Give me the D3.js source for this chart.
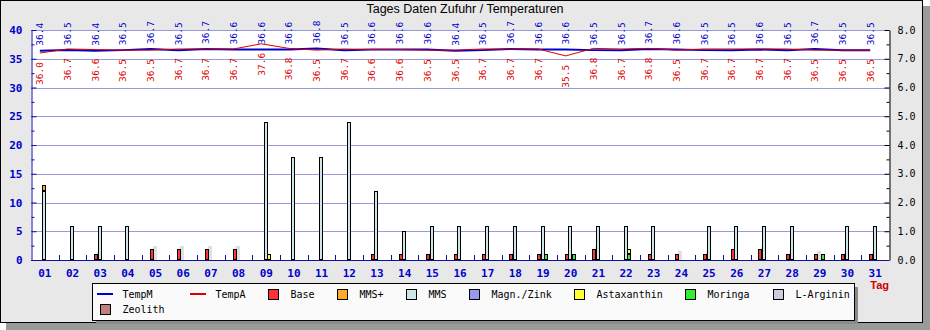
<!DOCTYPE html>
<html>
<head>
<meta charset="utf-8">
<script src="https://cdn.jsdelivr.net/npm/d3@7/dist/d3.min.js"></script>
<style>
  body { margin: 0; background: #ffffff; }
  svg { display: block; }
</style>
</head>
<body>
<svg id="chart" width="930" height="330"></svg>
<script>
// ---- data -------------------------------------------------------------
const days = ["01","02","03","04","05","06","07","08","09","10","11","12","13","14","15","16",
              "17","18","19","20","21","22","23","24","25","26","27","28","29","30","31"];

const tempM = [36.4,36.5,36.4,36.5,36.7,36.5,36.7,36.6,36.6,36.6,36.8,36.5,36.6,36.6,36.6,36.4,
               36.5,36.7,36.6,36.6,36.5,36.5,36.7,36.6,36.5,36.5,36.6,36.5,36.7,36.5,36.5];
const tempA = [36.0,36.7,36.6,36.5,36.5,36.7,36.7,36.7,37.6,36.8,36.5,36.7,36.6,36.6,36.5,36.5,
               36.7,36.7,36.7,35.5,36.8,36.7,36.8,36.5,36.7,36.7,36.7,36.7,36.5,36.5,36.5];

const base        = [0,0,1,0,2,2,2,2,0,0,0,0,1,1,1,1,1,1,1,1,2,0,1,1,1,2,2,1,1,1,1];
const mmsPlus     = [1,0,0,0,0,0,0,0,0,0,0,0,0,0,0,0,0,0,0,0,0,0,0,0,0,0,0,0,0,0,0];
const mms         = [12,6,6,6,0,0,0,0,24,18,18,24,12,5,6,6,6,6,6,6,6,6,6,0,6,6,6,6,0,6,6];
const magnZink    = [0,0,0,0,0,0,0,0,0,0,0,0,0,0,0,0,0,0,0,0,0,0,0,0,0,0,0,0,0,0,0];
const astaxanthin = [0,0,0,0,0,0,0,0,1,0,0,0,0,0,0,0,0,0,0,0,0,1,0,0,0,0,0,0,0,0,0];
const moringa     = [0,0,0,0,0,0,0,0,0,0,0,0,0,0,0,0,0,0,1,1,0,1,0,0,0,0,0,0,1,0,0];
const lArginin    = [0,0,0,0,0,0,0,0,0,0,0,0,0,0,0,0,0,0,0,0,0,0,0,0,0,0,0,0,0,0,0];
const zeolith     = [0,0,0,0,0,0,0,0,0,0,0,0,0,0,0,0,0,0,0,0,0,0,0,0,0,0,0,0,0,0,0];

const leftTicks  = [0,5,10,15,20,25,30,35,40];
const rightTicks = [0,1,2,3,4,5,6,7,8];

const chartTitle = "Tages Daten Zufuhr / Temperaturen";
const xTitle = "Tag";

// ---- series styling ----------------------------------------------------
const colors = {
  TempM: "#0000cc", TempA: "#dd0000",
  Base: "#ff3333", "MMS+": "#ffaa22", MMS: "#cce6ea", "Magn./Zink": "#9999ee",
  Astaxanthin: "#ffff33", Moringa: "#33ee33", "L-Arginin": "#ccccdd", Zeolith: "#c08080"
};

const seriesValues = {
  Base: base, "MMS+": mmsPlus, MMS: mms, "Magn./Zink": magnZink,
  Astaxanthin: astaxanthin, Moringa: moringa, "L-Arginin": lArginin, Zeolith: zeolith
};

// three bar slots per day, each slot stacks its series bottom-up
const slots = [
  { key: "s1", series: ["Base", "Zeolith"] },
  { key: "s2", series: ["MMS", "MMS+", "L-Arginin"] },
  { key: "s3", series: ["Moringa", "Astaxanthin", "Magn./Zink"] }
];

const legendItems = [
  { name: "TempM", type: "line" }, { name: "TempA", type: "line" },
  { name: "Base", type: "box" }, { name: "MMS+", type: "box" }, { name: "MMS", type: "box" },
  { name: "Magn./Zink", type: "box" }, { name: "Astaxanthin", type: "box" },
  { name: "Moringa", type: "box" }, { name: "L-Arginin", type: "box" }, { name: "Zeolith", type: "box" }
];

// ---- layout ------------------------------------------------------------
const W = 930, H = 330;
const P = { l: 31, r: 889, t: 30, b: 260 };
const svg = d3.select("#chart");

const x = d3.scaleBand().domain(days).range([P.l, P.r]).padding(0);
const xs = d3.scaleBand().domain(slots.map(s => s.key)).range([-6, 4.5]);
const y = d3.scaleLinear().domain([0, 40]).range([P.b, P.t]);
const y2 = d3.scaleLinear().domain([0, 8]).range([P.b, P.t]);
const cx = d => x(d) + x.bandwidth() / 2;
const lineX = i => cx(days[i]) - 5;
const barW = 4;

// frame with drop shadow
svg.append("rect").attr("x", 6).attr("y", 6).attr("width", W - 6).attr("height", H - 6).attr("fill", "#9a9a9a");
svg.append("rect").attr("x", 0.5).attr("y", 0.5).attr("width", W - 8).attr("height", H - 8)
  .attr("fill", "#e8e8e8").attr("stroke", "#000");

// plot area
svg.append("rect").attr("x", P.l).attr("y", P.t).attr("width", P.r - P.l).attr("height", P.b - P.t)
  .attr("fill", "#ffffff");

// horizontal grid
svg.append("g").selectAll("line").data(leftTicks.filter(v => v > 0)).join("line")
  .attr("x1", P.l).attr("x2", P.r)
  .attr("y1", d => Math.round(y(d)) + 0.5).attr("y2", d => Math.round(y(d)) + 0.5)
  .attr("stroke", "#9999dd").attr("stroke-width", 1);

// bars
const barG = svg.append("g").attr("shape-rendering", "crispEdges");
const slotX = (day, key) => Math.round(cx(day) + xs(key));
// soft shadow behind the Base bars
barG.selectAll("rect.shadow").data(days.map((d, i) => ({ d, v: base[i] })).filter(o => o.v > 0))
  .join("rect").attr("class", "shadow")
  .attr("x", o => slotX(o.d, "s1") + 3)
  .attr("y", o => Math.round(y(o.v)) - 3)
  .attr("width", barW)
  .attr("height", o => P.b - Math.round(y(o.v)) + 3)
  .attr("fill", "#e0e0e0");

slots.forEach(slot => {
  const rows = days.map((d, i) => {
    const r = { day: d };
    slot.series.forEach(s => r[s] = seriesValues[s][i]);
    return r;
  });
  const stacked = d3.stack().keys(slot.series)(rows);
  stacked.forEach(layer => {
    barG.append("g").selectAll("rect").data(layer.filter(p => p[1] - p[0] > 0)).join("rect")
      .attr("x", p => slotX(p.data.day, slot.key) + 0.5)
      .attr("y", p => Math.round(y(p[1])) + 0.5)
      .attr("width", barW - 1)
      .attr("height", p => Math.round(y(p[0])) - Math.round(y(p[1])) - 1)
      .attr("fill", colors[layer.key])
      .attr("stroke", "#000").attr("stroke-width", 1);
  });
});

// temperature lines
const line = d3.line().x((v, i) => lineX(i)).y(v => y(v));
svg.append("path").datum(tempM).attr("d", line).attr("fill", "none")
  .attr("stroke", colors.TempM).attr("stroke-width", 2);
svg.append("path").datum(tempA).attr("d", line).attr("fill", "none")
  .attr("stroke", colors.TempA).attr("stroke-width", 1);

// value labels
const labFont = "'DejaVu Sans Mono', monospace";
svg.append("g").selectAll("text").data(tempM).join("text")
  .attr("transform", (v, i) => `translate(${lineX(i)},${y(v) - 5}) rotate(-90)`)
  .attr("text-anchor", "start").attr("dominant-baseline", "central")
  .attr("font-family", labFont).attr("font-size", 9.5).attr("fill", colors.TempM)
  .text(v => v.toFixed(1));
svg.append("g").selectAll("text").data(tempA).join("text")
  .attr("transform", (v, i) => `translate(${lineX(i)},${y(v) + 9}) rotate(-90)`)
  .attr("text-anchor", "end").attr("dominant-baseline", "central")
  .attr("font-family", labFont).attr("font-size", 9.5).attr("fill", colors.TempA)
  .text(v => v.toFixed(1));

// left axis
const axFont = "'DejaVu Sans Mono', monospace";
const gL = svg.append("g").attr("transform", `translate(${P.l + 0.5},0)`)
  .call(d3.axisLeft(y).tickValues(leftTicks).tickSizeInner(-5).tickSizeOuter(0).tickPadding(9)
    .tickFormat(d3.format("d")));
gL.select(".domain").attr("stroke", "#1010a0");
gL.selectAll(".tick line").attr("stroke", "#1010a0");
gL.selectAll("text").attr("font-family", axFont).attr("font-size", 11).attr("font-weight", "bold")
  .attr("fill", "#0000cc");
const gLm = svg.append("g").attr("transform", `translate(${P.l + 0.5},0)`)
  .call(d3.axisLeft(y).tickValues(d3.range(0, 40.01, 2.5).filter(v => v % 5 !== 0))
    .tickSizeInner(-3).tickSizeOuter(0).tickFormat(""));
gLm.select(".domain").remove();
gLm.selectAll(".tick line").attr("stroke", "#1010a0");

// right axis
const gR = svg.append("g").attr("transform", `translate(${P.r + 0.5},0)`)
  .call(d3.axisRight(y2).tickValues(rightTicks).tickSizeInner(-5).tickSizeOuter(0).tickPadding(8)
    .tickFormat(d3.format(".1f")));
gR.select(".domain").attr("stroke", "#000");
gR.selectAll(".tick line").attr("stroke", "#000");
gR.selectAll("text").attr("font-family", axFont).attr("font-size", 10).attr("fill", "#000");
const gRm = svg.append("g").attr("transform", `translate(${P.r + 0.5},0)`)
  .call(d3.axisRight(y2).tickValues(d3.range(0.5, 8, 1)).tickSizeInner(-3).tickSizeOuter(0).tickFormat(""));
gRm.select(".domain").remove();
gRm.selectAll(".tick line").attr("stroke", "#000");

// x axis: labels centred on days, ticks on day boundaries
const gX = svg.append("g").attr("transform", `translate(0,${P.b + 0.5})`)
  .call(d3.axisBottom(x).tickSize(0).tickPadding(9));
gX.select(".domain").attr("stroke", "#1010a0").attr("d", `M${P.l},0H${P.r}`);
gX.selectAll("text").attr("font-family", axFont).attr("font-size", 11).attr("font-weight", "bold")
  .attr("fill", "#0000cc");
svg.append("g").selectAll("line").data(days.slice(1)).join("line")
  .attr("x1", d => Math.round(x(d)) + 0.5).attr("x2", d => Math.round(x(d)) + 0.5)
  .attr("y1", P.b).attr("y2", P.b - 5).attr("stroke", "#1010a0");

// titles
svg.append("text").attr("x", 465).attr("y", 13).attr("text-anchor", "middle")
  .attr("font-family", "'Liberation Sans', Arial, sans-serif").attr("font-size", 12.5).attr("fill", "#000")
  .text(chartTitle);
svg.append("text").attr("x", P.r).attr("y", 289).attr("text-anchor", "end")
  .attr("font-family", "'Liberation Sans', Arial, sans-serif").attr("font-size", 11).attr("font-weight", "bold")
  .attr("fill", "#cc0000").text(xTitle);

// legend
const LB = { x: 92, y: 283, w: 762, h: 37 };
svg.append("rect").attr("x", LB.x + 4).attr("y", LB.y + 4).attr("width", LB.w).attr("height", LB.h).attr("fill", "#8a8a8a");
svg.append("rect").attr("x", LB.x + 0.5).attr("y", LB.y + 0.5).attr("width", LB.w).attr("height", LB.h)
  .attr("fill", "#fafafa").attr("stroke", "#000");
const legendPos = [[97, 294], [190, 294], [268, 294], [337, 294], [406, 294], [469, 294], [574, 294], [685, 294], [773, 294], [100, 309]];
const lg = svg.append("g");
legendItems.forEach((it, i) => {
  const [lx, ly] = legendPos[i];
  let tx;
  if (it.type === "line") {
    lg.append("line").attr("x1", lx).attr("x2", lx + 16).attr("y1", ly).attr("y2", ly)
      .attr("stroke", colors[it.name]).attr("stroke-width", 2);
    tx = lx + 25.5;
  } else {
    lg.append("rect").attr("x", lx + 0.5).attr("y", ly - 4.5).attr("width", 10).attr("height", 10)
      .attr("fill", colors[it.name]).attr("stroke", "#000").attr("shape-rendering", "crispEdges");
    tx = lx + 22.5;
  }
  lg.append("text").attr("x", tx).attr("y", ly).attr("dominant-baseline", "central")
    .attr("font-family", labFont).attr("font-size", 10).attr("fill", "#000").text(it.name);
});
</script>
</body>
</html>
